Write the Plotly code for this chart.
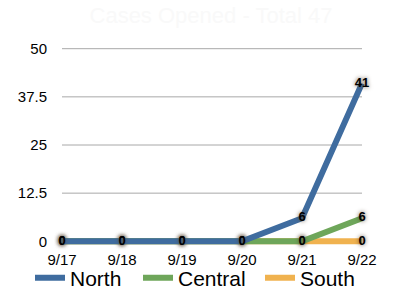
import plotly.graph_objects as go

categories = ["9/17", "9/18", "9/19", "9/20", "9/21", "9/22"]
north = [0, 0, 0, 0, 6, 41]
central = [0, 0, 0, 0, 0, 6]
south = [0, 0, 0, 0, 0, 0]
y_ticks = [0, 12.5, 25, 37.5, 50]
y_tick_labels = ["0", "12.5", "25", "37.5", "50"]
title = "Cases Opened - Total 47"

colors = {"North": "#3f6c9f", "Central": "#6ea65a", "South": "#f0b24f"}
legend_ids = {"North": "legend", "Central": "legend2", "South": "legend3"}
legend_x = {"North": 30, "Central": 138, "South": 260}

fig = go.Figure()
xs = list(range(len(categories)))
for name, vals in [("South", south), ("Central", central), ("North", north)]:
    fig.add_trace(go.Scatter(
        x=xs, y=vals, name=name, mode="lines+text",
        line=dict(color=colors[name], width=6),
        text=[str(v) for v in vals], textposition="middle center",
        textfont=dict(family="Liberation Sans", size=13, color="black", weight="bold",
                      shadow="0px 0px 4px #5a4a3a"),
        cliponaxis=False, legend=legend_ids[name],
    ))

for t in y_ticks[1:]:
    fig.add_shape(type="line", xref="x", yref="y", x0=0, x1=len(categories) - 1,
                  y0=t, y1=t, line=dict(color="#a8a8a8", width=1), layer="below")

W, H = 397, 308
legends = {}
for name, lid in legend_ids.items():
    legends[lid] = dict(orientation="h", xref="container", x=legend_x[name] / W, xanchor="left",
                        yref="container", y=(H - 278) / H, yanchor="middle",
                        bgcolor="rgba(0,0,0,0)", font=dict(size=21), itemwidth=30)

fig.update_layout(
    width=W, height=H,
    margin=dict(l=56, r=29, t=41, b=59, autoexpand=False),
    paper_bgcolor="white", plot_bgcolor="white",
    font=dict(family="Liberation Sans", color="black"),
    title=dict(text=title, x=211 / W, xanchor="center", y=(H - 15) / H, yanchor="middle",
               font=dict(size=22, color="#f9f9f9")),
    showlegend=True,
    xaxis=dict(range=[-0.1, 5.1], tickvals=xs, ticktext=categories, showgrid=False,
               zeroline=False, showline=False, tickfont=dict(size=15), ticks=""),
    yaxis=dict(range=[-2, 52], tickvals=y_ticks, ticktext=y_tick_labels, showgrid=False,
               zeroline=False, showline=False, tickfont=dict(size=15), ticks="",
               ticklabelstandoff=8),
    **legends,
)

fig.write_html("out.html")
